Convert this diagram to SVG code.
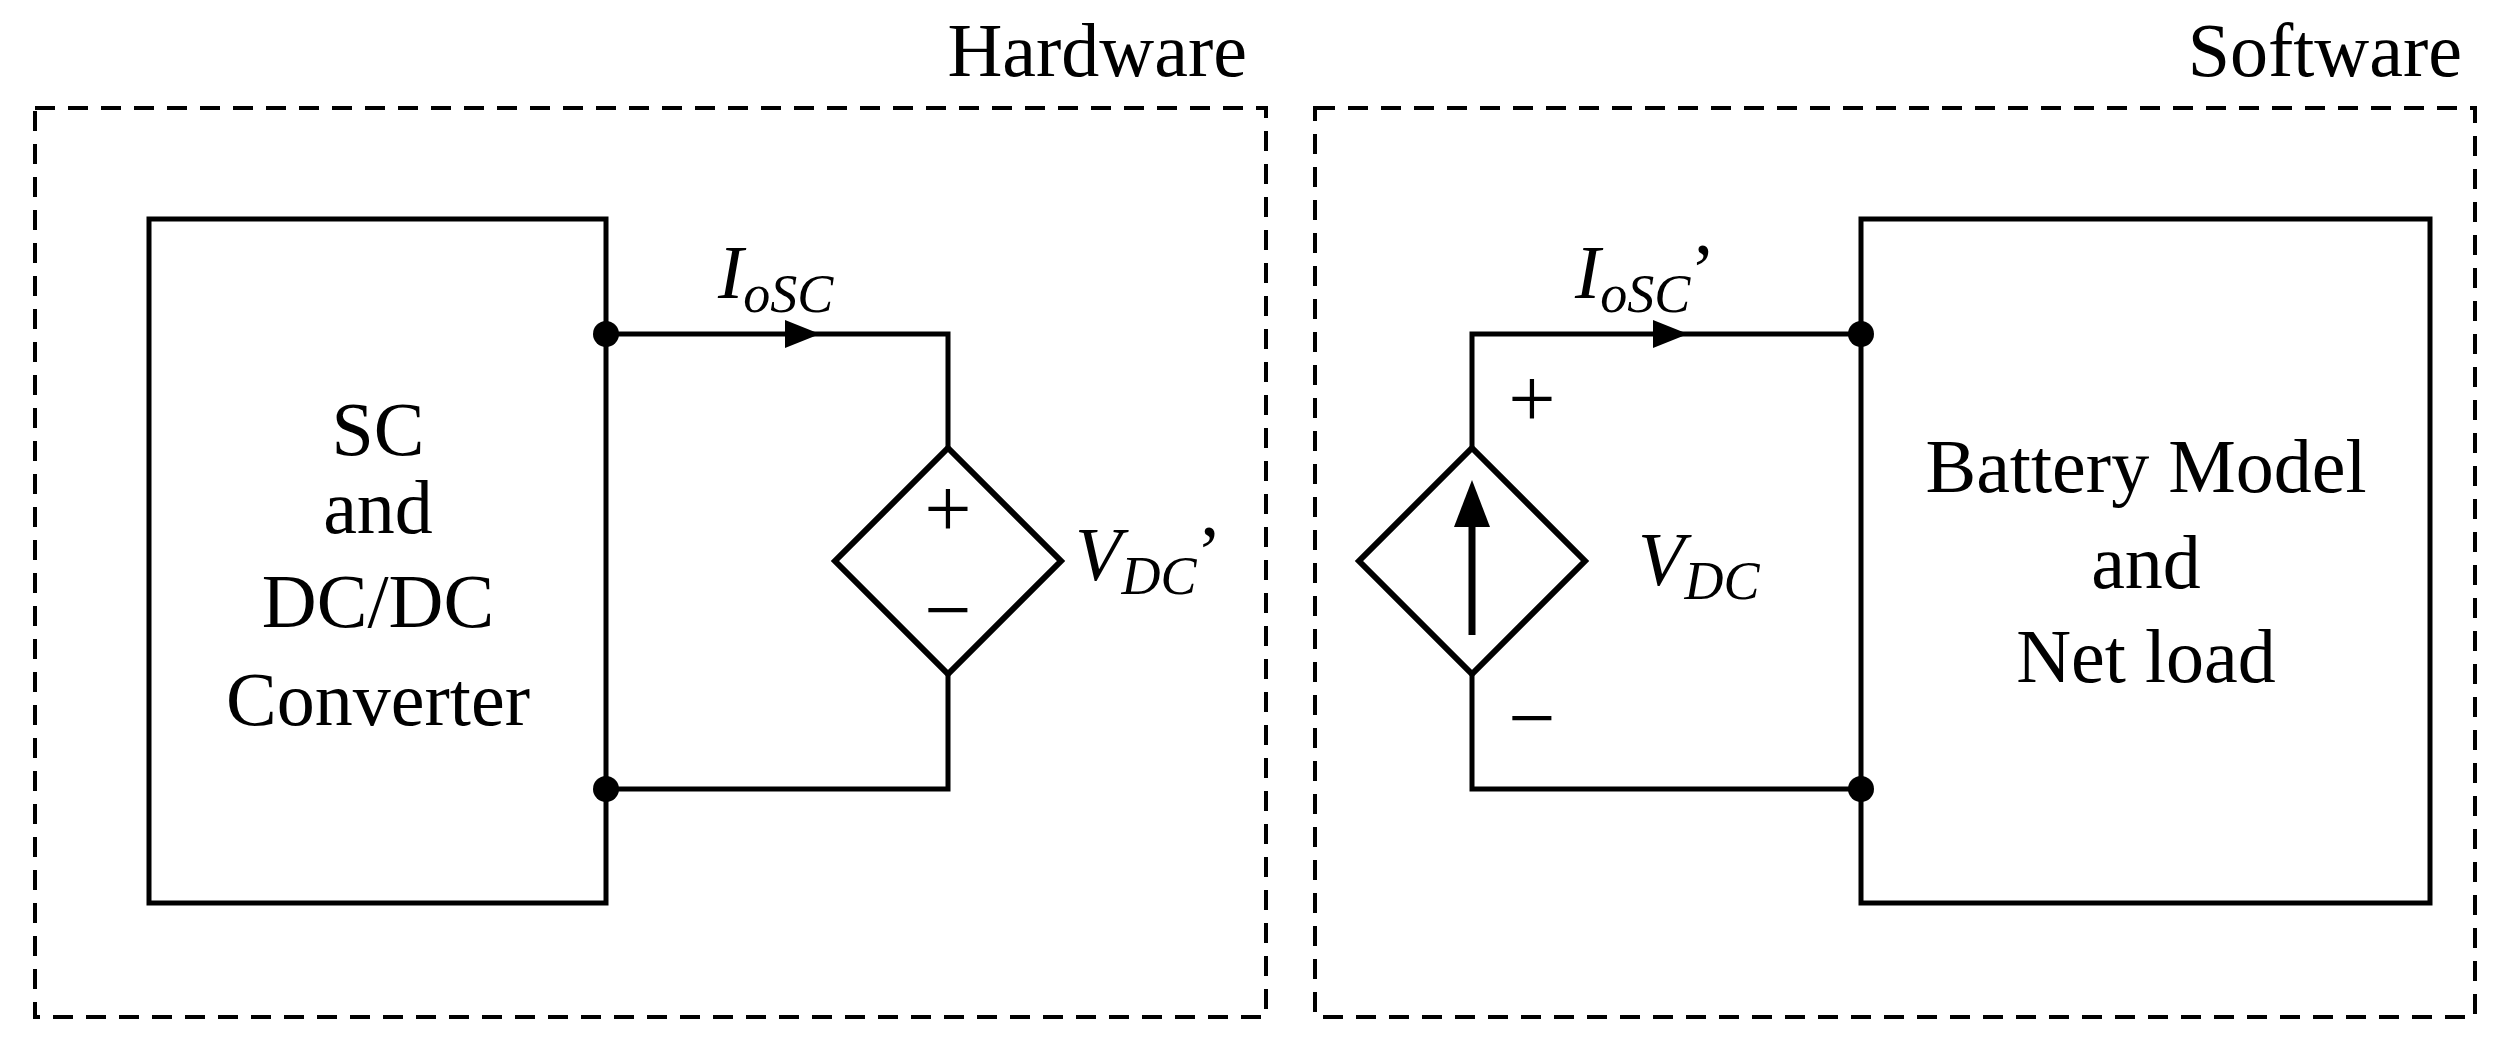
<svg xmlns="http://www.w3.org/2000/svg" width="2520" height="1052" viewBox="0 0 2520 1052">
<style>
.t{font-family:"Liberation Serif","DejaVu Serif",serif;font-size:76px;fill:#000}
.pm{font-family:"Liberation Serif","DejaVu Serif",serif;font-size:84px;fill:#000}
.m{font-family:"Liberation Serif","DejaVu Serif",serif;font-style:italic;font-size:76px;fill:#000}
.s{font-size:54px}
.w{fill:none;stroke:#000;stroke-width:5}
.d{fill:none;stroke:#000;stroke-width:4;stroke-dasharray:20 13}
.dm{fill:#fff;stroke:#000;stroke-width:6}
</style>
<rect width="2520" height="1052" fill="#fff"/>
<g id="hardware"><rect class="d" x="35" y="108" width="1231" height="909"/><text class="t" x="1247" y="76" text-anchor="end">Hardware</text></g>
<g id="software"><rect class="d" x="1315" y="108" width="1160" height="909"/><text class="t" x="2462" y="76" text-anchor="end">Software</text></g>
<g id="connectors">
<polyline class="w" points="606,334 948,334 948,448"/>
<polyline class="w" points="948,674 948,789 606,789"/>
<path d="M785,320L820,334L785,348Z"/>
<polyline class="w" points="1472,448 1472,334 1861,334"/>
<polyline class="w" points="1472,674 1472,789 1861,789"/>
<path d="M1653,320L1688,334L1653,348Z"/>
<circle cx="606" cy="334" r="13"/><circle cx="606" cy="789" r="13"/>
<circle cx="1861" cy="334" r="13"/><circle cx="1861" cy="789" r="13"/>
</g>
<g id="converter"><rect class="w" x="149" y="219" width="457" height="684"/>
<text class="t" text-anchor="middle"><tspan x="378" y="455">SC</tspan><tspan x="378" y="533">and</tspan><tspan x="378" y="627">DC/DC</tspan><tspan x="378" y="725">Converter</tspan></text></g>
<g id="vsource"><path class="dm" d="M948,448L1061,561L948,674L835,561Z"/>
<text class="pm" x="948" y="537" text-anchor="middle">+</text><text class="pm" x="948" y="638" text-anchor="middle">−</text>
<text class="m" x="1075" y="580">V<tspan class="s" dy="14">DC</tspan><tspan dy="-16" font-style="normal">’</tspan></text>
<text class="m" x="718" y="298">I<tspan class="s" dy="14">oSC</tspan></text></g>
<g id="isource"><path class="dm" d="M1472,448L1585,561L1472,674L1359,561Z"/>
<line x1="1472" y1="635" x2="1472" y2="520" stroke="#000" stroke-width="7"/><path d="M1454,527L1472,480L1490,527Z"/>
<text class="pm" x="1532" y="427" text-anchor="middle">+</text><text class="pm" x="1532" y="746" text-anchor="middle">−</text>
<text class="m" x="1638" y="585">V<tspan class="s" dy="14">DC</tspan></text>
<text class="m" x="1575" y="298">I<tspan class="s" dy="14">oSC</tspan><tspan dy="-16" font-style="normal">’</tspan></text></g>
<g id="battery"><rect class="w" x="1861" y="219" width="569" height="684"/>
<text class="t" text-anchor="middle"><tspan x="2146" y="492">Battery Model</tspan><tspan x="2146" y="588">and</tspan><tspan x="2146" y="682">Net load</tspan></text></g>
</svg>
